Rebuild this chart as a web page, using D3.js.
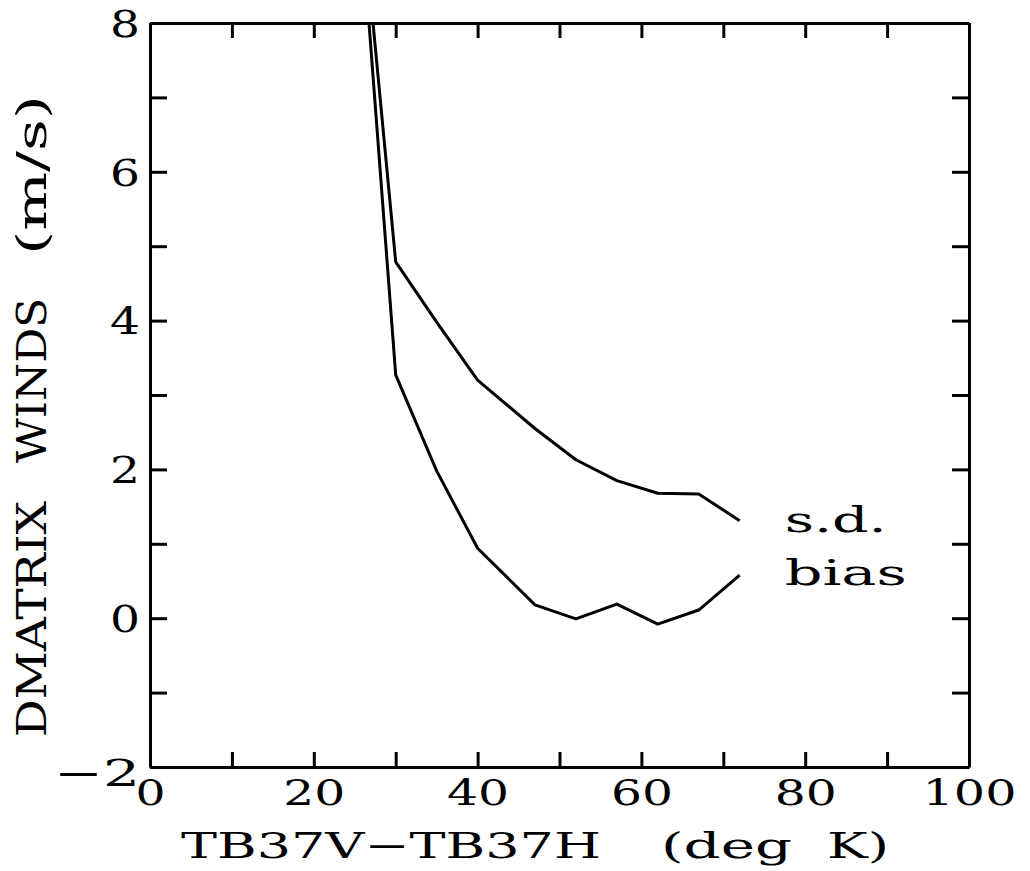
<!DOCTYPE html>
<html>
<head>
<meta charset="utf-8">
<script src="https://cdn.jsdelivr.net/npm/d3@7"></script>
<style>
  body { margin: 0; background: #fff; }
  text { font-family: "DejaVu Serif", "Liberation Serif", serif; fill: #000; }
</style>
</head>
<body>
<div id="chart"></div>
<script>

// Data
var tbDiff = [25, 30, 35, 40, 47, 52, 57, 62, 67, 72];
var sdWinds = [10.58, 4.79, 3.98, 3.2, 2.55, 2.13, 1.85, 1.68, 1.67, 1.31];
var biasWinds = [10.52, 3.27, 1.98, 0.94, 0.18, -0.01, 0.19, -0.08, 0.11, 0.58];
var xTickLabels = [0, 20, 40, 60, 80, 100];
var yTickLabels = [-2, 0, 2, 4, 6, 8];
var seriesNames = ["s.d.", "bias"];
var xTitleWords = ["TB37V\u2212TB37H", "(deg", "K)"];
var yTitleWords = ["DMATRIX", "WINDS", "(m/s)"];

var svgWidth = 1030;
var svgHeight = 871;

var margin = {
  top: 23,
  right: 61,
  bottom: 104,
  left: 150
};

var width = svgWidth - margin.left - margin.right;
var height = svgHeight - margin.top - margin.bottom;

var svg = d3.select("#chart")
  .append("svg")
  .attr("width", svgWidth)
  .attr("height", svgHeight);

var chartGroup = svg.append("g")
  .attr("transform", `translate(${margin.left}, ${margin.top})`);

// scales
var xScale = d3.scaleLinear().domain([0, 100]).range([0, width]);
var yScale = d3.scaleLinear().domain([-2, 8]).range([height, 0]);

var xMinor = d3.range(0, 101, 10);
var yMinor = d3.range(-2, 9, 1);

function xFmt(d) { return xTickLabels.indexOf(d) >= 0 ? d : ""; }
function yFmt(d) { return yTickLabels.indexOf(d) >= 0 ? (d < 0 ? "\u2212" + (-d) : d) : ""; }

// axes (ticks point inward on all four sides)
var bottomAxis = d3.axisBottom(xScale).tickValues(xMinor).tickSizeInner(-15).tickSizeOuter(0).tickFormat(xFmt);
var topAxis = d3.axisTop(xScale).tickValues(xMinor).tickSizeInner(-15).tickSizeOuter(0).tickFormat("");
var leftAxis = d3.axisLeft(yScale).tickValues(yMinor).tickSizeInner(-17).tickSizeOuter(0).tickFormat(yFmt);
var rightAxis = d3.axisRight(yScale).tickValues(yMinor).tickSizeInner(-17).tickSizeOuter(0).tickFormat("");

var gx = chartGroup.append("g").attr("transform", `translate(0, ${height})`).call(bottomAxis);
chartGroup.append("g").call(topAxis);
var gy = chartGroup.append("g").call(leftAxis);
chartGroup.append("g").attr("transform", `translate(${width}, 0)`).call(rightAxis);

chartGroup.selectAll(".domain, .tick line")
  .attr("stroke", "#000")
  .attr("stroke-width", 3);

gx.selectAll("text")
  .attr("y", 38)
  .attr("dy", 0)
  .attr("font-size", 36)
  .attr("fill", "#000")
  .attr("textLength", function(d) { var s = xFmt(d) + ""; return s.length ? s.length * 32 - 2 : null; })
  .attr("lengthAdjust", "spacingAndGlyphs");

gy.selectAll("text")
  .attr("x", -10)
  .attr("y", function(d) { return d < 0 ? 5 : 0; })
  .attr("dy", "0.36em")
  .attr("font-size", 37)
  .attr("fill", "#000")
  .attr("textLength", function(d) { var s = yFmt(d) + ""; return s.length ? (d < 0 ? 86 : 30) : null; })
  .attr("lengthAdjust", "spacingAndGlyphs");

// lines
chartGroup.append("clipPath").attr("id", "plotClip")
  .append("rect").attr("width", width).attr("height", height);

var line = d3.line()
  .x(function(d) { return xScale(d[0]); })
  .y(function(d) { return yScale(d[1]); });

[sdWinds, biasWinds].forEach(function(vals) {
  chartGroup.append("path")
    .datum(tbDiff.map(function(x, i) { return [x, vals[i]]; }))
    .attr("clip-path", "url(#plotClip)")
    .attr("fill", "none")
    .attr("stroke", "#000")
    .attr("stroke-width", 3)
    .attr("stroke-linejoin", "round")
    .attr("d", line);
});

// series labels
chartGroup.append("text")
  .attr("x", xScale(77.5))
  .attr("y", yScale(1.16))
  .attr("font-size", 36)
  .attr("textLength", 102)
  .attr("lengthAdjust", "spacingAndGlyphs")
  .text(seriesNames[0]);

chartGroup.append("text")
  .attr("x", xScale(77.5))
  .attr("y", yScale(0.45))
  .attr("font-size", 36)
  .attr("textLength", 122)
  .attr("lengthAdjust", "spacingAndGlyphs")
  .text(seriesNames[1]);

// axis titles, one text per word so the word gaps match the plotter font
var xTitleSpans = [[181, 420], [661, 131], [827, 62]];
xTitleWords.forEach(function(w, i) {
  svg.append("text")
    .attr("x", xTitleSpans[i][0])
    .attr("y", 858)
    .attr("font-size", 36)
    .attr("textLength", xTitleSpans[i][1])
    .attr("lengthAdjust", "spacingAndGlyphs")
    .text(w);
});

var yTitleSpans = [[737, 236], [463, 165], [255, 160]];
var yTitle = svg.append("g").attr("transform", "translate(46, 0) rotate(-90)");
yTitleWords.forEach(function(w, i) {
  yTitle.append("text")
    .attr("x", -yTitleSpans[i][0])
    .attr("y", 0)
    .attr("font-size", 41)
    .attr("textLength", yTitleSpans[i][1])
    .attr("lengthAdjust", "spacingAndGlyphs")
    .text(w);
});

</script>
</body>
</html>
